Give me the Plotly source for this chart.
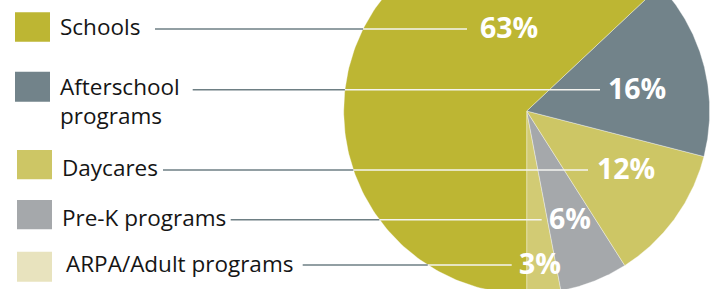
import numpy as np
import plotly.graph_objects as go

# ---- data ----
categories = ["Schools", "Afterschool<br>programs", "Daycares", "Pre-K programs", "ARPA/Adult programs"]
shares = [63, 16, 12, 6, 3]

# ---- styles / layout ----
slice_colors = ["#BDB633", "#72838A", "#CDC665", "#A5A8AB", "#D2CB74"]
swatch_colors = ["#BDB633", "#72838A", "#CDC665", "#A5A8AB", "#E8E3BE"]
row_y = [29, 89.7, 170, 219.7, 265]
text_y = [26.5, 101, 167.5, 217, 263]
swatch_x = [[15, 50], [15, 50], [17, 52], [17, 52], [17, 52]]
swatch_y = [[12.3, 41.7], [71.7, 101.7], [150, 179.3], [200, 229.3], [251.7, 281.7]]
text_x = [58, 58, 60, 60, 64]
line_x0 = [155, 192.7, 163, 230.7, 302.7]
line_x1 = [467, 600, 588, 541.7, 511.7]
pct_x = [478, 606, 595, 547, 517]
cx, cy, R = 526.7, 111.0, 183.0
W, H = 714, 289
line_gray = "#6E7F84"

fig = go.Figure()

# pie slices: start at 6 o'clock, go counter-clockwise (towards the right)
order = list(range(len(shares)))[::-1]
total = float(sum(shares))
start = 0.0
for i in order:
    span = shares[i] / total * 2 * np.pi
    phi = np.linspace(start, start + span, 200)
    xs = np.concatenate([[cx], cx + R * np.sin(phi), [cx]])
    ys = np.concatenate([[cy], cy + R * np.cos(phi), [cy]])
    fig.add_trace(go.Scatter(x=xs, y=ys, mode="lines", fill="toself",
                             fillcolor=slice_colors[i],
                             line=dict(color="rgba(255,255,255,0.6)", width=0.6),
                             hoverinfo="skip", showlegend=False))
    start += span

shapes = []
annotations = []
for i, name in enumerate(categories):
    y = row_y[i]
    shapes.append(dict(type="rect", xref="x", yref="y",
                       x0=swatch_x[i][0], x1=swatch_x[i][1],
                       y0=swatch_y[i][0], y1=swatch_y[i][1],
                       fillcolor=swatch_colors[i], line=dict(width=0), layer="above"))
    annotations.append(dict(x=text_x[i], y=text_y[i], xref="x", yref="y",
                            text=name, showarrow=False, xanchor="left", yanchor="middle",
                            align="left",
                            font=dict(family="Open Sans", size=22.5, color="#151515")))
    edge = cx - np.sqrt(max(R ** 2 - (y - cy) ** 2, 0))
    shapes.append(dict(type="line", xref="x", yref="y", x0=line_x0[i], x1=edge, y0=y, y1=y,
                       line=dict(color=line_gray, width=1.5), layer="above"))
    shapes.append(dict(type="line", xref="x", yref="y", x0=edge, x1=line_x1[i], y0=y, y1=y,
                       line=dict(color="#F4F4F0", width=1.5), layer="above"))
    annotations.append(dict(x=pct_x[i], y=y - 2, xref="x", yref="y",
                            text=f"<b>{shares[i]}%</b>", showarrow=False,
                            xanchor="left", yanchor="middle",
                            font=dict(family="Open Sans", size=28.5, color="#FFFFFF")))

fig.update_layout(
    width=W, height=H,
    margin=dict(l=0, r=0, t=0, b=0),
    paper_bgcolor="white", plot_bgcolor="white",
    xaxis=dict(range=[0, W], visible=False, fixedrange=True),
    yaxis=dict(range=[H, 0], visible=False, fixedrange=True),
    shapes=shapes, annotations=annotations,
    showlegend=False,
)

fig.write_html("out.html", config={"displayModeBar": False},
               post_script="document.body.style.margin='0px';document.body.style.overflow='hidden';")
